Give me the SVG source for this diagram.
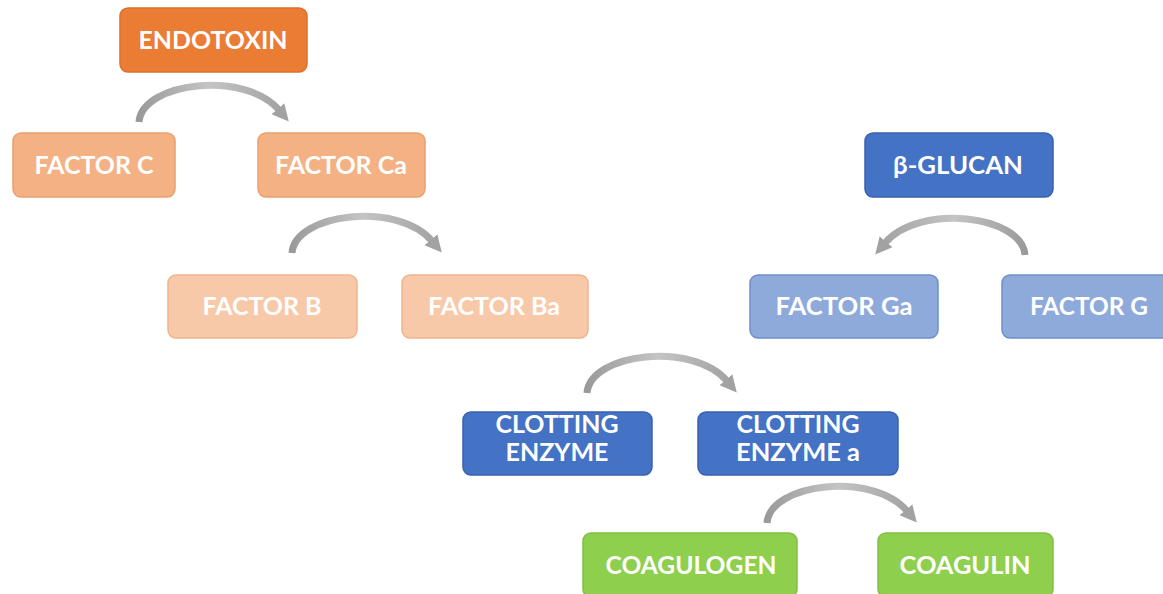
<svg xmlns="http://www.w3.org/2000/svg" width="1163" height="594" viewBox="0 0 1163 594">
<style>
text{font-family:Lato,"Liberation Sans",Arial,sans-serif;font-weight:bold;font-size:24px;fill:#ffffff;text-anchor:middle}
.o1{fill:#EB7C34;stroke:#D9702C;stroke-width:1.5}
.o2{fill:#F4B183;stroke:#E9A070;stroke-width:1.5}
.o3{fill:#F8C9A8;stroke:#F0B48C;stroke-width:1.5}
.b1{fill:#4472C4;stroke:#3862AE;stroke-width:1.5}
.b2{fill:#8EAADB;stroke:#6F8FC8;stroke-width:1.5}
.g1{fill:#8FCF4E;stroke:#7FC042;stroke-width:1.5}
.arr{fill:none;stroke:url(#ag);stroke-width:7;marker-end:url(#ah)}
</style>
<defs>
<linearGradient id="ag" x1="0" y1="0" x2="1" y2="0">
<stop offset="0" stop-color="#9A9A9A"/>
<stop offset="0.5" stop-color="#C4C4C4"/>
<stop offset="1" stop-color="#A4A4A4"/>
</linearGradient>
<marker id="ah" viewBox="0 0 10 10" refX="1" refY="5" markerWidth="2.4" markerHeight="2.6" orient="auto" markerUnits="strokeWidth">
<path d="M0,0 L10,5 L0,10 Z" fill="#A2A2A2"/>
</marker>
</defs>
<rect width="1163" height="594" fill="#ffffff"/>
<g id="connectors">
<path class="arr" d="M139 122 C142 82 245 70 279 110"/>
<path class="arr" transform="translate(153,131)" d="M139 122 C142 82 245 70 279 110"/>
<path class="arr" transform="translate(1164,133) scale(-1,1)" d="M139 122 C142 82 245 70 279 110"/>
<path class="arr" transform="translate(448,271)" d="M139 122 C142 82 245 70 279 110"/>
<path class="arr" transform="translate(628,401)" d="M139 122 C142 82 245 70 279 110"/>
</g>
<g id="endotoxin"><rect class="o1" x="120" y="8" width="187" height="64" rx="8"/><text x="213" y="49" textLength="149" lengthAdjust="spacingAndGlyphs">ENDOTOXIN</text></g>
<g id="factor-c"><rect class="o2" x="13" y="133" width="162" height="64" rx="8"/><text x="94" y="174" textLength="119" lengthAdjust="spacingAndGlyphs">FACTOR C</text></g>
<g id="factor-ca"><rect class="o2" x="258" y="133" width="167" height="64" rx="8"/><text x="341" y="174" textLength="132" lengthAdjust="spacingAndGlyphs">FACTOR Ca</text></g>
<g id="factor-b"><rect class="o3" x="168" y="275" width="189" height="63" rx="8"/><text x="262" y="315" textLength="119" lengthAdjust="spacingAndGlyphs">FACTOR B</text></g>
<g id="factor-ba"><rect class="o3" x="402" y="275" width="186" height="63" rx="8"/><text x="494" y="315" textLength="132" lengthAdjust="spacingAndGlyphs">FACTOR Ba</text></g>
<g id="beta-glucan"><rect class="b1" x="865" y="133" width="188" height="64" rx="8"/><text x="958" y="174" textLength="130" lengthAdjust="spacingAndGlyphs">β-GLUCAN</text></g>
<g id="factor-ga"><rect class="b2" x="750" y="275" width="188" height="63" rx="8"/><text x="844" y="315" textLength="137" lengthAdjust="spacingAndGlyphs">FACTOR Ga</text></g>
<g id="factor-g"><rect class="b2" x="1002" y="275" width="175" height="63" rx="8"/><text x="1089" y="315" textLength="118" lengthAdjust="spacingAndGlyphs">FACTOR G</text></g>
<g id="clotting-enzyme"><rect class="b1" x="463" y="412" width="189" height="63" rx="8"/><text x="557" y="433" textLength="123" lengthAdjust="spacingAndGlyphs">CLOTTING</text><text x="557" y="461" textLength="103" lengthAdjust="spacingAndGlyphs">ENZYME</text></g>
<g id="clotting-enzyme-a"><rect class="b1" x="698" y="412" width="200" height="63" rx="8"/><text x="798" y="433" textLength="123" lengthAdjust="spacingAndGlyphs">CLOTTING</text><text x="798" y="461" textLength="124" lengthAdjust="spacingAndGlyphs">ENZYME a</text></g>
<g id="coagulogen"><rect class="g1" x="583" y="533" width="214" height="64" rx="8"/><text x="691" y="574" textLength="171" lengthAdjust="spacingAndGlyphs">COAGULOGEN</text></g>
<g id="coagulin"><rect class="g1" x="878" y="533" width="175" height="64" rx="8"/><text x="965" y="574" textLength="131" lengthAdjust="spacingAndGlyphs">COAGULIN</text></g>
</svg>
